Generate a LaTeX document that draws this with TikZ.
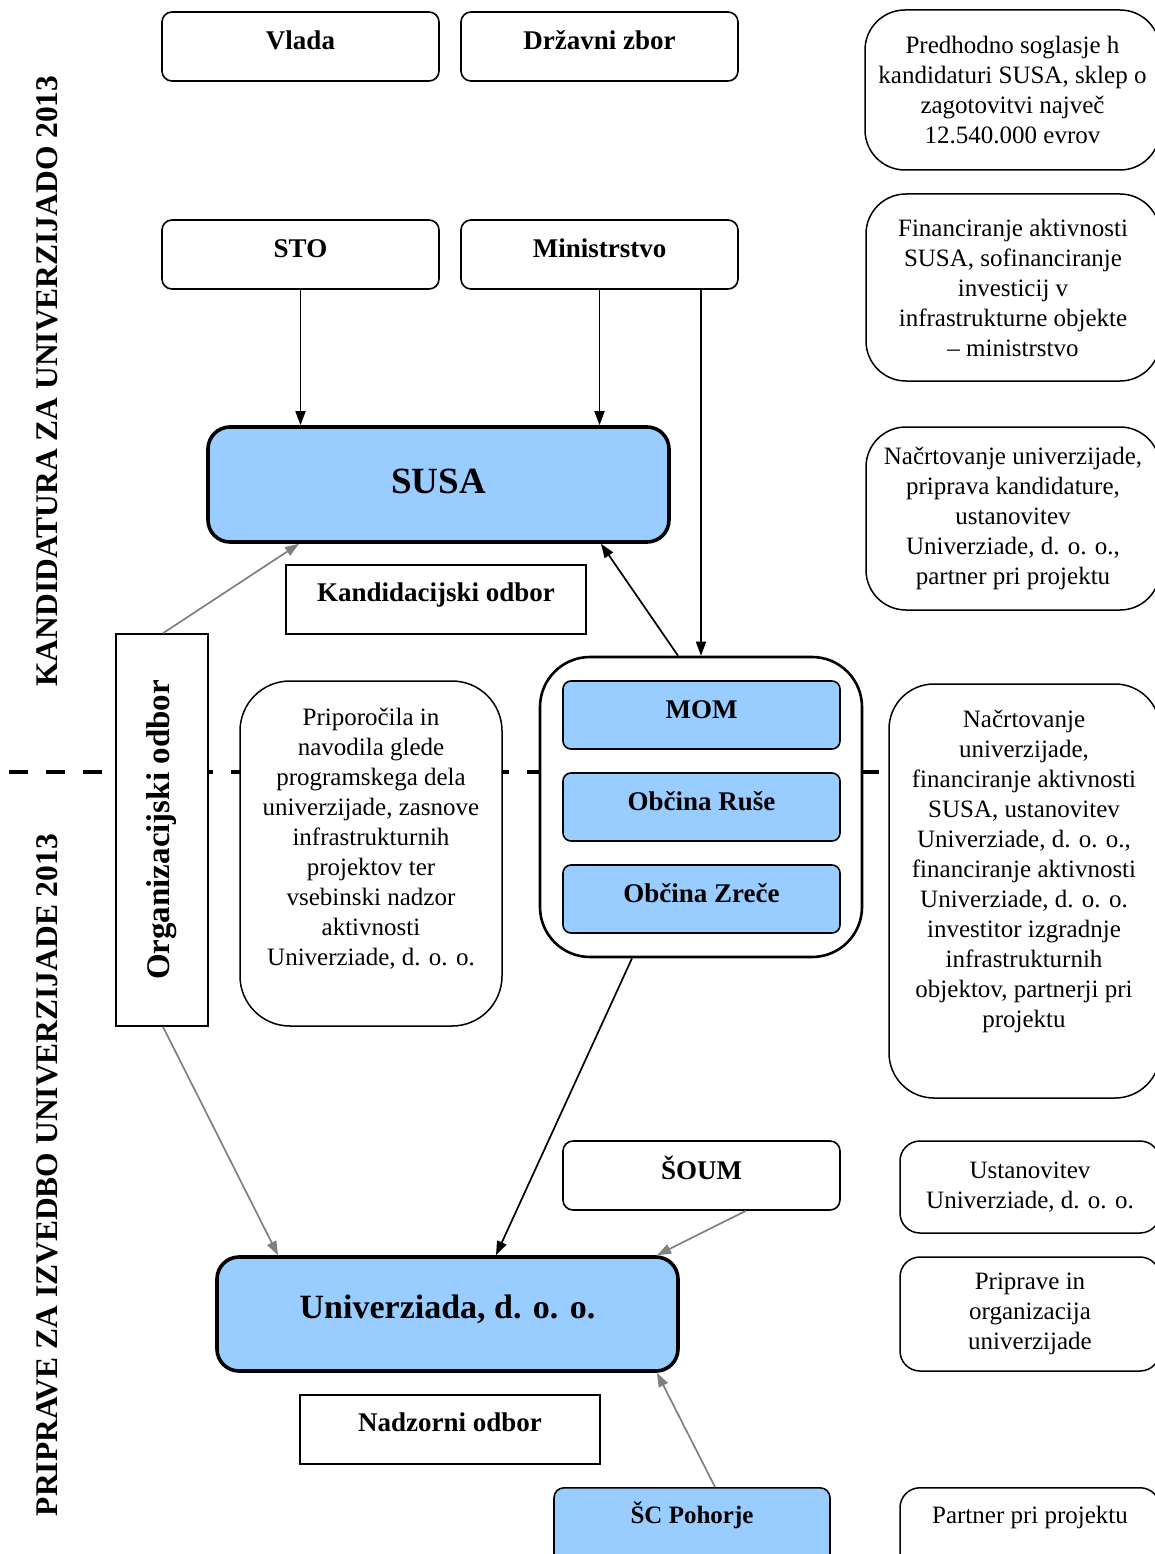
\documentclass[tikz,border=0pt]{standalone}
\usepackage{fontspec}
\setmainfont{Liberation Serif}
\usetikzlibrary{arrows.meta,calc}
\definecolor{bluefill}{HTML}{99CCFF}
\definecolor{arrgray}{HTML}{808080}
\begin{document}
\begin{tikzpicture}[x=1pt,y=-1pt,
  base/.style={draw, fill=white, inner sep=0pt, line width=1.6pt},
  smallbox/.style={base, rounded corners=10pt, minimum width=277pt, text height=38pt, text depth=31pt, font=\fontsize{27}{30}\selectfont\bfseries},
  bluebox/.style={base, rounded corners=8pt, fill=bluefill, minimum width=277pt, text height=37pt, text depth=31pt, font=\fontsize{27}{30}\selectfont\bfseries},
  bigbox/.style={base, rounded corners=22pt, fill=bluefill, line width=3.6pt, minimum width=461pt},
  sharpbox/.style={base, minimum width=300pt, text height=36pt, text depth=33pt, font=\fontsize{27}{30}\selectfont\bfseries},
  notebox/.style={base, line width=1.5pt, rounded corners=40pt, align=center, font=\fontsize{25}{30}\selectfont},
  notetext/.style={align=center, inner sep=0pt, font=\fontsize{25}{30}\selectfont},
  sidetext/.style={rotate=90, inner sep=0pt, font=\fontsize{31.5}{34}\selectfont\bfseries},
  blk/.style={draw=black, line width=1.7pt, -{Triangle[length=14pt,width=10pt]}},
  gry/.style={draw=arrgray, line width=1.7pt, -{Triangle[length=14pt,width=10pt]}},
  dashline/.style={line width=4pt, dash pattern=on 19pt off 18pt}
]
\useasboundingbox (0,0) rectangle (1155,1554);
\clip (0,0) rectangle (1155,1554);

% phase divider
\coordinate (dl) at (9,772);
\coordinate (dr) at (1155,772);
\draw[dashline] (dl) -- (dr);

% side titles
\node[sidetext] (t1) at (47,381) {KANDIDATURA ZA UNIVERZIJADO 2013};
\node[sidetext] (t2) at (47,1175) {PRIPRAVE ZA IZVEDBO UNIVERZIJADE 2013};

% top boxes
\node[smallbox] (vlada) at (300.5,46.5) {Vlada};
\node[smallbox] (dz) at (599.5,46.5) {Državni zbor};
\node[smallbox] (sto) at (300.5,254.5) {STO};
\node[smallbox] (min) at (599.5,254.5) {Ministrstvo};

% SUSA
\node[bigbox, text height=66pt, text depth=49pt, font=\fontsize{37}{40}\selectfont\bfseries] (susa) at (438.5,484.5) {SUSA};
\node[sharpbox] (kand) at (436,599.5) {Kandidacijski odbor};

% Organizacijski odbor
\node[base, minimum width=92pt, minimum height=392pt] (org) at (162,830) {};
\node[rotate=90, inner sep=0pt, font=\fontsize{33}{35}\selectfont\bfseries] (orgt) at (org.center) {Organizacijski odbor};

% Priporocila
\node[base, line width=1.5pt, rounded corners=50pt, minimum width=262pt, minimum height=345pt] (prip) at (371,853.5) {};
\node[notetext] (pript) at (371,839) {Priporočila in\\navodila glede\\programskega dela\\univerzijade, zasnove\\infrastrukturnih\\projektov ter\\vsebinski nadzor\\aktivnosti\\Univerziade, d. o. o.};

% container with municipalities
\node[base, line width=2.6pt, rounded corners=50pt, minimum width=322pt, minimum height=300pt] (cont) at (701,807) {};
\node[bluebox] (mom) at (701.5,715) {MOM};
\node[bluebox] (ruse) at (701.5,807) {Občina Ruše};
\node[bluebox] (zrece) at (701.5,899) {Občina Zreče};

% right notes
\node[notebox, minimum width=295pt, minimum height=160pt] (r1) at (1012.5,90) {Predhodno soglasje h\\kandidaturi SUSA, sklep o\\zagotovitvi največ\\12.540.000 evrov};
\node[notebox, minimum width=294pt, minimum height=187pt] (r2) at (1013,287.5) {Financiranje aktivnosti\\SUSA, sofinanciranje\\investicij v\\infrastrukturne objekte\\– ministrstvo};
\node[notebox, minimum width=294pt, minimum height=183pt] (r3) at (1013,518.5) {Načrtovanje univerzijade,\\priprava kandidature,\\ustanovitev\\Univerziade, d. o. o.,\\partner pri projektu};
\node[base, line width=1.5pt, rounded corners=45pt, minimum width=271pt, minimum height=414pt] (r4) at (1024.5,891) {};
\node[notetext] (r4t) at (1024,871) {Načrtovanje\\univerzijade,\\financiranje aktivnosti\\SUSA, ustanovitev\\Univerziade, d. o. o.,\\financiranje aktivnosti\\Univerziade, d. o. o.\\investitor izgradnje\\infrastrukturnih\\objektov, partnerji pri\\projektu};

% lower part
\node[smallbox] (soum) at (701.5,1175.5) {ŠOUM};
\node[notebox, rounded corners=20pt, minimum width=260pt, minimum height=92pt] (r5) at (1030,1187) {Ustanovitev\\Univerziade, d. o. o.};
\node[bigbox, text height=61pt, text depth=53pt, font=\fontsize{34}{38}\selectfont\bfseries] (univ) at (447.5,1314) {Univerziada, d. o. o.};
\node[notebox, rounded corners=20pt, minimum width=260pt, minimum height=114pt] (r6) at (1030,1314) {Priprave in\\organizacija\\univerzijade};
\node[sharpbox] (nadz) at (450,1429.5) {Nadzorni odbor};
\node[base, rounded corners=10pt, fill=bluefill, minimum width=276pt, text height=36pt, text depth=60pt, anchor=north, font=\fontsize{25}{30}\selectfont\bfseries] (scp) at (692,1487) {ŠC Pohorje};
\node[base, line width=1.5pt, rounded corners=20pt, minimum width=260pt, text height=36pt, text depth=60pt, anchor=north, font=\fontsize{25}{30}\selectfont] (r7) at (1030,1487) {Partner pri projektu};

% connectors
\draw[blk] (sto.south) -- (sto.south |- susa.north);
\draw[blk] (min.south) -- (min.south |- susa.north);
\draw[blk] (cont.north |- min.south) -- (cont.north);
\draw[blk] ([xshift=-23pt]cont.north) -- ([xshift=162.5pt]susa.south);
\draw[gry] ([xshift=1pt]org.north) -- ([xshift=-139.5pt]susa.south);
\draw[gry] ([xshift=1pt]org.south) -- ([xshift=-169.5pt]univ.north);
\draw[blk] ([xshift=-69pt]cont.south) -- ([xshift=48.5pt]univ.north);
\draw[gry] ([xshift=44.5pt]soum.south) -- ([xshift=209.5pt]univ.north);
\draw[gry] ([xshift=23pt]scp.north) -- ([xshift=209.5pt]univ.south);
\end{tikzpicture}
\end{document}
